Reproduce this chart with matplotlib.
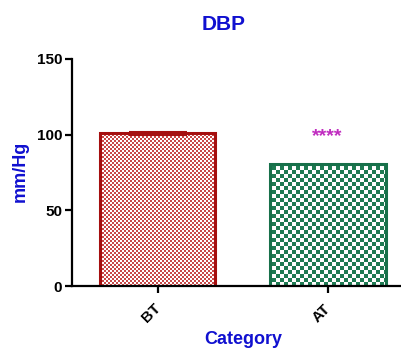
import matplotlib
matplotlib.use('Agg')
import matplotlib.pyplot as plt
import matplotlib.transforms as mtransforms
import numpy as np

plt.rcParams['font.family'] = ['Liberation Sans', 'DejaVu Sans']
plt.rcParams['font.weight'] = 'bold'

categories = ['BT', 'AT']
means = [101, 80.5]
errors = [1.0, 0.4]
edge_colors = ['#A50F0F', '#17704A']
check_colors = ['#C84848', '#1E7A52']
cell_px = [2, 4]
significance = ['', '****']


def checker_fill(ax, bar, color, cell):
    # pixel-sized checkerboard over the axes, clipped to the bar shape
    bb = ax.get_window_extent()
    w, h = int(round(bb.width)), int(round(bb.height))
    ii, jj = np.indices((h, w))
    mask = ((ii // cell) + (jj // cell)) % 2
    rgb = np.ones((h, w, 3))
    rgb[mask == 1] = matplotlib.colors.to_rgb(color)
    im = ax.imshow(rgb, extent=(0, 1, 0, 1), transform=ax.transAxes,
                   origin='lower', interpolation='nearest', aspect='auto',
                   zorder=1)
    im.set_clip_path(bar)


fig = plt.figure(figsize=(4.02, 3.49), dpi=100)
ax = fig.add_axes([0.179, 0.1805, 0.816, 0.6505])

x = np.arange(len(categories))
bars = ax.bar(x, means, width=0.68, facecolor='none',
              edgecolor=edge_colors, linewidth=2.2, zorder=2)
for b, col, cell in zip(bars, check_colors, cell_px):
    checker_fill(ax, b, col, cell)
ax.set_xlim(-0.504, 1.425)
ax.set_ylim(0, 150)

ax.errorbar(x[0], means[0], yerr=errors[0], fmt='none', ecolor=edge_colors[0],
            elinewidth=1.5, capsize=21, capthick=1.5, zorder=3)

for xi, m, s in zip(x, means, significance):
    if s:
        ax.text(xi, 99, s, ha='center', va='center', color='#C02CC0',
                fontsize=14, fontweight='bold')

for side in ['top', 'right']:
    ax.spines[side].set_visible(False)
for side in ['left', 'bottom']:
    ax.spines[side].set_linewidth(1.6)

ax.set_yticks([0, 50, 100, 150])
ax.set_xticks(x)
ax.set_xticklabels(categories, rotation=45, ha='center', va='top')
ax.tick_params(axis='both', length=5, width=1.6, labelsize=11, pad=2)
ax.tick_params(axis='x', pad=6)
shift = mtransforms.ScaledTranslation(-6 / 100, 0, fig.dpi_scale_trans)
for lab in ax.get_xticklabels():
    lab.set_transform(lab.get_transform() + shift)

fig.text(224 / 402, 1 - 25 / 349, 'DBP', ha='center', va='center',
         color='#1010D0', fontsize=15, fontweight='bold')
fig.text(243 / 402, 1 - 340 / 349, 'Category', ha='center', va='center',
         color='#1010D0', fontsize=13, fontweight='bold')
fig.text(20 / 402, 1 - 171 / 349, 'mm/Hg', ha='center', va='center',
         rotation=90, color='#1010D0', fontsize=13, fontweight='bold')

fig.savefig('out.png', dpi=100)
